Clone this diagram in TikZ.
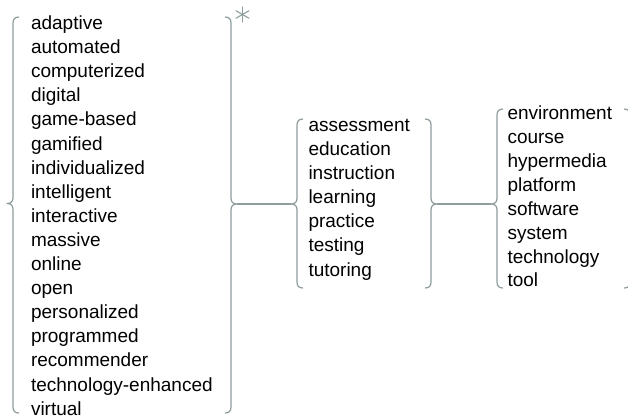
\documentclass[tikz,border=0pt]{standalone}
\usepackage{fontspec}
\setmainfont{Liberation Sans}
\usetikzlibrary{calc}
\definecolor{bracegray}{HTML}{8E9C9C}
\tikzset{
  brace/.style={draw=bracegray, line width=1.2bp, line join=round},
  link/.style={draw=bracegray, line width=1.2bp},
  word/.style={anchor=base west, inner sep=0pt, outer sep=0pt,
    font=\fontsize{19bp}{24bp}\selectfont, text=black},
  star/.style={draw=bracegray, line width=1.1bp, line cap=round},
}
% opening brace: vertical x, top y, tip y, bottom y, tip name
\newcommand{\openbrace}[5]{%
  \draw[brace] ({#1+6},#2) .. controls ({#1+2},#2) and (#1,{#2+2}) .. (#1,{#2+6})
    -- (#1,{#3-6}) .. controls (#1,{#3-2}) and ({#1-2},#3) .. ({#1-6},#3) coordinate (#5)
    .. controls ({#1-2},#3) and (#1,{#3+2}) .. (#1,{#3+6})
    -- (#1,{#4-6}) .. controls (#1,{#4-2}) and ({#1+2},#4) .. ({#1+6},#4);}
% closing brace: vertical x, top y, tip y, bottom y, tip name
\newcommand{\closebrace}[5]{%
  \draw[brace] ({#1-6},#2) .. controls ({#1-2},#2) and (#1,{#2+2}) .. (#1,{#2+6})
    -- (#1,{#3-6}) .. controls (#1,{#3-2}) and ({#1+2},#3) .. ({#1+6},#3) coordinate (#5)
    .. controls ({#1+2},#3) and (#1,{#3+2}) .. (#1,{#3+6})
    -- (#1,{#4-6}) .. controls (#1,{#4-2}) and ({#1-2},#4) .. ({#1-6},#4);}
\begin{document}
\begin{tikzpicture}[x=1bp,y=-1bp]
\useasboundingbox (0,0) rectangle (628,417);
\clip (0,0) rectangle (628,417);

% modifiers
\foreach \w [count=\i] in {adaptive,automated,computerized,digital,game-based,gamified,
  individualized,intelligent,interactive,massive,online,open,personalized,
  programmed,recommender,technology-enhanced,virtual}
  \node[word] (a\i) at (31,{29.5+24.1*(\i-1)}) {\w};

% activities
\foreach \w [count=\i] in {assessment,education,instruction,learning,practice,testing,tutoring}
  \node[word] (b\i) at (308.5,{131.7+24.05*(\i-1)}) {\w};

% artefacts
\foreach \w [count=\i] in {environment,course,hypermedia,platform,software,system,technology,tool}
  \node[word] (c\i) at (507.5,{119.3+23.95*(\i-1)}) {\w};

% braces
\openbrace{13}{17}{203.5}{413}{aL}
\closebrace{231}{17}{204}{413}{aR}
\openbrace{297}{119}{204}{288}{bL}
\closebrace{431}{119}{204}{288}{bR}
\openbrace{497}{109}{204}{288}{cL}
\closebrace{630}{109}{204}{288}{cR}

% connectors between groups
\draw[link] (aR) -- (bL);
\draw[link] (bR) -- (cL);

% repetition mark
\coordinate (st) at (242.5,14.5);
\draw[star] ($(st)+(0,-7.5)$) -- ($(st)+(0,7.5)$);
\draw[star] ($(st)+(-6.5,-3.75)$) -- ($(st)+(6.5,3.75)$);
\draw[star] ($(st)+(-6.5,3.75)$) -- ($(st)+(6.5,-3.75)$);
\end{tikzpicture}
\end{document}
